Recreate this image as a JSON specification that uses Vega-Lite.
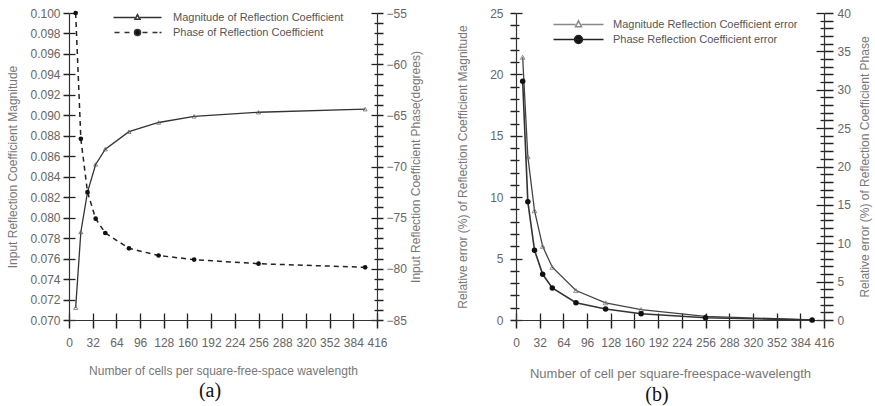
{
  "$schema": "https://vega.github.io/schema/vega-lite/v6.json",
  "background": "white",
  "padding": {"left": 6, "top": 7, "right": 2, "bottom": 3},
  "config": {
    "font": "Liberation Sans",
    "view": {"stroke": null},
    "axis": {
      "ticks": true,
      "domainColor": "#333",
      "tickColor": "#222",
      "tickOpacity": 1,
      "domainWidth": 1.2,
      "tickWidth": 1.5,
      "gridColor": "#222",
      "gridWidth": 1.3,
      "gridOpacity": 1,
      "labelColor": "#666",
      "titleColor": "#777",
      "labelFontSize": 12,
      "titleFontSize": 12,
      "titleFontWeight": "normal",
      "labelFont": "Liberation Sans",
      "titleFont": "Liberation Sans",
      "labelOverlap": false,
      "labelSeparation": -30,
      "labelFlush": false
    },
    "title": {"font": "Liberation Serif", "fontSize": 20, "fontWeight": "normal", "color": "#111"}
  },
  "spacing": 34,
  "resolve": {
    "scale": {"shape": "independent", "fill": "independent", "stroke": "independent"},
    "legend": {"shape": "independent", "fill": "independent", "stroke": "independent"}
  },
  "hconcat": [
    {
      "width": 308,
      "height": 307,
      "title": {"text": "(a)", "orient": "bottom", "anchor": "middle", "dx": -13, "offset": 5},
      "data": {"values": [
        {"n": 9, "mag": 0.0712, "phase": -55.0},
        {"n": 16, "mag": 0.0786, "phase": -67.3},
        {"n": 25, "mag": 0.0825, "phase": -72.5},
        {"n": 36, "mag": 0.0852, "phase": -75.1},
        {"n": 49, "mag": 0.0867, "phase": -76.5},
        {"n": 81, "mag": 0.0884, "phase": -78.0},
        {"n": 121, "mag": 0.0893, "phase": -78.7},
        {"n": 169, "mag": 0.0899, "phase": -79.1},
        {"n": 256, "mag": 0.0903, "phase": -79.5},
        {"n": 400, "mag": 0.0906, "phase": -79.85}
      ]},
      "layer": [
        {
          "mark": {"type": "line", "color": "#333", "strokeWidth": 1.3,
                   "point": {"shape": "triangle-up", "filled": false, "size": 16, "color": "#666", "strokeWidth": 0.8}},
          "encoding": {
            "x": {"field": "n", "type": "quantitative",
                  "scale": {"domain": [0, 416], "nice": false},
                  "axis": {"values": [0,32,64,96,128,160,192,224,256,288,320,352,384,416],
                           "labelOverlap": false, "labelSeparation": -30, "labelFlush": false,
                           "ticks": true, "tickSize": 8,
                           "grid": true, "gridDash": [7, 1000], "gridDashOffset": 707,
                           "title": "Number of cells per square-free-space wavelength",
                           "labelPadding": 9, "titlePadding": 17}},
            "y": {"field": "mag", "type": "quantitative",
                  "scale": {"domain": [0.07, 0.1], "nice": false, "zero": false},
                  "axis": {"orient": "left",
                           "values": [0.07,0.072,0.074,0.076,0.078,0.08,0.082,0.084,0.086,0.088,0.09,0.092,0.094,0.096,0.098,0.1],
                           "labelOverlap": false, "ticks": true,
                           "grid": true, "gridDash": [6, 1000],
                           "format": ".3f", "tickSize": 6, "labelPadding": 3, "titlePadding": 10,
                           "title": "Input Reflection Coefficient Magnitude"}}
          }
        },
        {
          "mark": {"type": "line", "color": "#222", "strokeWidth": 1.5, "strokeDash": [5, 4],
                   "point": {"filled": true, "size": 22, "color": "#111"}},
          "encoding": {
            "x": {"field": "n", "type": "quantitative",
                  "axis": {"values": [0,32,64,96,128,160,192,224,256,288,320,352,384,416],
                           "labelOverlap": false, "labelSeparation": -30, "labelFlush": false,
                           "ticks": true, "tickSize": 8,
                           "grid": true, "gridDash": [7, 1000], "gridDashOffset": 707,
                           "title": "Number of cells per square-free-space wavelength",
                           "labelPadding": 9, "titlePadding": 17}},
            "y": {"field": "phase", "type": "quantitative",
                  "scale": {"domain": [-85, -55], "nice": false, "zero": false},
                  "axis": {"orient": "right",
                           "values": [-85,-84,-83,-82,-81,-80,-79,-78,-77,-76,-75,-74,-73,-72,-71,-70,-69,-68,-67,-66,-65,-64,-63,-62,-61,-60,-59,-58,-57,-56,-55],
                           "labelOverlap": false, "ticks": true,
                           "labelExpr": "datum.value % 5 === 0 ? datum.label : ''",
                           "tickSize": 6,
                           "grid": true,
                           "gridDash": {"condition": {"test": "datum.value % 5 === 0", "value": [6, 1000]}, "value": [3, 1000]},
                           "labelPadding": 3, "titlePadding": 4, "titleAngle": -90, "titleBaseline": "top",
                           "title": "Input Reflection Coefficient Phase(degrees)"}}
          }
        },
        {
          "data": {"values": []},
          "mark": {"type": "point", "filled": true, "stroke": "#333", "strokeWidth": 1.2, "size": 64, "opacity": 1},
          "encoding": {
            "shape": {"datum": "Magnitude of Reflection Coefficient",
                      "scale": {"domain": ["Magnitude of Reflection Coefficient", "Phase of Reflection Coefficient"],
                                "range": ["M-6,0H-0.62M0.62,0H6M0,-0.7L0.62,0.45L-0.62,0.45Z",
                                          "M-5.75,0H-4.5M-3.25,0H-2M1.25,0H2.5M3.75,0H5M5.5,0H6M0.75,0A0.75,0.75 0 1,1 -0.75,0A0.75,0.75 0 1,1 0.75,0Z"]},
                      "legend": {"orient": "none", "legendX": 63, "legendY": -1, "title": null, "padding": 0,
                                 "symbolSize": 64, "labelFontSize": 11, "labelColor": "#555", "labelOffset": 30,
                                 "rowPadding": 3, "labelLimit": 400}},
            "fill": {"datum": "Magnitude of Reflection Coefficient",
                     "scale": {"domain": ["Magnitude of Reflection Coefficient", "Phase of Reflection Coefficient"],
                               "range": ["white", "#111"]},
                     "legend": {"orient": "none", "legendX": 63, "legendY": -1, "title": null, "padding": 0,
                                "symbolSize": 64, "labelFontSize": 11, "labelColor": "#555", "labelOffset": 30,
                                "rowPadding": 3, "labelLimit": 400}}
          }
        }
      ],
      "resolve": {"scale": {"y": "independent"}}
    },
    {
      "width": 308,
      "height": 307,
      "title": {"text": "(b)", "orient": "bottom", "anchor": "middle", "dx": -13, "offset": 5},
      "data": {"values": [
        {"n": 9, "magErr": 21.4, "phaseErr": 31.1},
        {"n": 16, "magErr": 13.3, "phaseErr": 15.4},
        {"n": 25, "magErr": 8.9, "phaseErr": 9.1},
        {"n": 36, "magErr": 6.0, "phaseErr": 5.95},
        {"n": 49, "magErr": 4.3, "phaseErr": 4.17},
        {"n": 81, "magErr": 2.4, "phaseErr": 2.25},
        {"n": 121, "magErr": 1.4, "phaseErr": 1.43},
        {"n": 169, "magErr": 0.85, "phaseErr": 0.82},
        {"n": 256, "magErr": 0.3, "phaseErr": 0.3},
        {"n": 400, "magErr": 0.0, "phaseErr": 0.0}
      ]},
      "layer": [
        {
          "mark": {"type": "line", "color": "#444", "strokeWidth": 1.3,
                   "point": {"shape": "triangle-up", "filled": false, "size": 22, "color": "#777", "strokeWidth": 0.8}},
          "encoding": {
            "x": {"field": "n", "type": "quantitative",
                  "scale": {"domain": [0, 416], "nice": false},
                  "axis": {"values": [0,32,64,96,128,160,192,224,256,288,320,352,384,416],
                           "labelOverlap": false, "labelSeparation": -30, "labelFlush": false,
                           "ticks": true, "tickSize": 8,
                           "grid": true, "gridDash": [7, 1000], "gridDashOffset": 707,
                           "title": "Number of cell per square-freespace-wavelength", "titleFontSize": 13,
                           "labelPadding": 9, "titlePadding": 19}},
            "y": {"field": "magErr", "type": "quantitative",
                  "scale": {"domain": [0, 25], "nice": false},
                  "axis": {"orient": "left",
                           "values": [0,1,2,3,4,5,6,7,8,9,10,11,12,13,14,15,16,17,18,19,20,21,22,23,24,25],
                           "labelOverlap": false, "ticks": true,
                           "labelExpr": "datum.value % 5 === 0 ? datum.label : ''",
                           "tickSize": 6,
                           "grid": true,
                           "gridDash": {"condition": {"test": "datum.value % 5 === 0", "value": [6, 1000]}, "value": [3, 1000]},
                           "labelPadding": 7, "titlePadding": 20,
                           "title": "Relative error (%) of Reflection Coefficient Magnitude"}}
          }
        },
        {
          "mark": {"type": "line", "color": "#333", "strokeWidth": 1.6,
                   "point": {"filled": true, "size": 30, "color": "#111"}},
          "encoding": {
            "x": {"field": "n", "type": "quantitative",
                  "axis": {"values": [0,32,64,96,128,160,192,224,256,288,320,352,384,416],
                           "labelOverlap": false, "labelSeparation": -30, "labelFlush": false,
                           "ticks": true, "tickSize": 8,
                           "grid": true, "gridDash": [7, 1000], "gridDashOffset": 707,
                           "title": "Number of cell per square-freespace-wavelength", "titleFontSize": 13,
                           "labelPadding": 9, "titlePadding": 19}},
            "y": {"field": "phaseErr", "type": "quantitative",
                  "scale": {"domain": [0, 40], "nice": false},
                  "axis": {"orient": "right",
                           "values": [0,1,2,3,4,5,6,7,8,9,10,11,12,13,14,15,16,17,18,19,20,21,22,23,24,25,26,27,28,29,30,31,32,33,34,35,36,37,38,39,40],
                           "labelOverlap": false, "ticks": true,
                           "labelExpr": "datum.value % 5 === 0 ? datum.label : ''",
                           "tickSize": 9,
                           "grid": true,
                           "gridDash": {"condition": {"test": "datum.value % 5 === 0", "value": [8, 1000]}, "value": [4, 1000]},
                           "labelPadding": 4, "titlePadding": 9, "titleAngle": -90, "titleBaseline": "top",
                           "title": "Relative error (%) of Reflection Coefficient Phase"}}
          }
        },
        {
          "data": {"values": []},
          "mark": {"type": "point", "filled": true, "strokeWidth": 1.4, "size": 64, "opacity": 1},
          "encoding": {
            "shape": {"datum": "Magnitude Reflection Coefficient error",
                      "scale": {"domain": ["Magnitude Reflection Coefficient error", "Phase Reflection Coefficient error"],
                                "range": ["M-6.25,0H-0.75M0.75,0H6.25M0,-0.9L0.75,0.55L-0.75,0.55Z",
                                          "M-6.25,0H6.25M1,0A1,1 0 1,1 -1,0A1,1 0 1,1 1,0Z"]},
                      "legend": {"orient": "none", "legendX": 57, "legendY": 6, "title": null, "padding": 0,
                                 "symbolSize": 64, "labelFontSize": 11, "labelColor": "#555", "labelOffset": 29,
                                 "rowPadding": 2, "labelLimit": 400}},
            "fill": {"datum": "Magnitude Reflection Coefficient error",
                     "scale": {"domain": ["Magnitude Reflection Coefficient error", "Phase Reflection Coefficient error"],
                               "range": ["white", "#111"]},
                     "legend": {"orient": "none", "legendX": 57, "legendY": 6, "title": null, "padding": 0,
                                "symbolSize": 64, "labelFontSize": 11, "labelColor": "#555", "labelOffset": 29,
                                "rowPadding": 2, "labelLimit": 400}},
            "stroke": {"datum": "Magnitude Reflection Coefficient error",
                       "scale": {"domain": ["Magnitude Reflection Coefficient error", "Phase Reflection Coefficient error"],
                                 "range": ["#888", "#222"]},
                       "legend": {"orient": "none", "legendX": 57, "legendY": 6, "title": null, "padding": 0,
                                  "symbolSize": 64, "labelFontSize": 11, "labelColor": "#555", "labelOffset": 29,
                                  "rowPadding": 2, "labelLimit": 400}}
          }
        }
      ],
      "resolve": {"scale": {"y": "independent"}}
    }
  ]
}
